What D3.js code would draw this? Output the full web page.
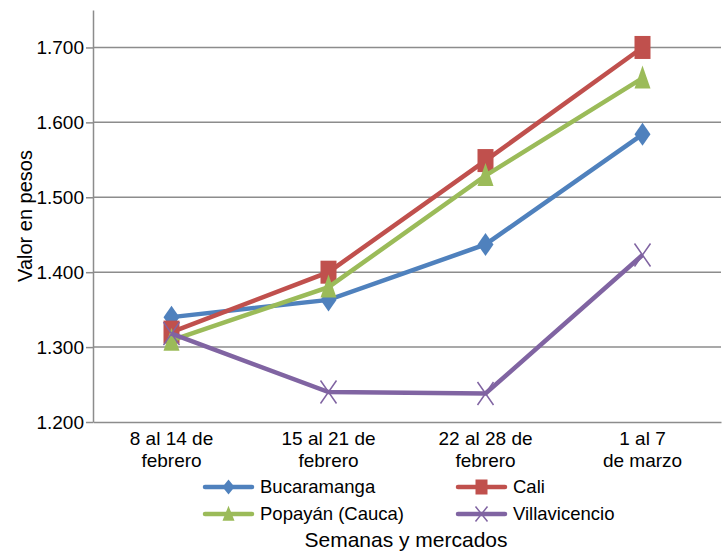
<!DOCTYPE html>
<html>
<head>
<meta charset="utf-8">
<script src="https://cdn.jsdelivr.net/npm/d3@7"></script>
<style>
  body { margin: 0; background: #fff; }
  text { font-family: "Liberation Sans", Arial, sans-serif; fill: #000; }
</style>
</head>
<body>
<div class="chart"></div>
<script>
// Data
const weeks = ["8 al 14 de|febrero", "15 al 21 de|febrero", "22 al 28 de|febrero", "1 al 7|de marzo"];
const bucaramanga = [1340, 1363, 1437, 1584];
const cali = [1320, 1400, 1549, 1700];
const popayan = [1309, 1380, 1529, 1659];
const villavicencio = [1318, 1240, 1238, 1423];
const yTicks = [1200, 1300, 1400, 1500, 1600, 1700];

const series = [
  { name: "Bucaramanga", values: bucaramanga, color: "#4F81BD", symbol: "diamond" },
  { name: "Cali", values: cali, color: "#C0504D", symbol: "square" },
  { name: "Popayán (Cauca)", values: popayan, color: "#9BBB59", symbol: "triangle" },
  { name: "Villavicencio", values: villavicencio, color: "#8064A2", symbol: "x" }
];

// Sizes
const w = 724;
const h = 552;
const margin = { top: 10, right: 3, bottom: 130, left: 93 };

const svg = d3.select(".chart").append("svg")
  .attr("width", w)
  .attr("height", h);

// Scales
const xScale = d3.scaleBand()
  .domain(weeks)
  .range([margin.left, w - margin.right]);

const yScale = d3.scaleLinear()
  .domain([1200, 1750])
  .range([h - margin.bottom, margin.top]);

const fmt = (d) => d3.format(",")(d).replace(",", ".");

// Gridlines
svg.append("g")
  .selectAll("line")
  .data(yTicks.slice(1))
  .enter()
  .append("line")
  .attr("x1", margin.left)
  .attr("x2", w - margin.right)
  .attr("y1", (d) => yScale(d))
  .attr("y2", (d) => yScale(d))
  .attr("stroke", "#8c8c8c")
  .attr("stroke-width", 1.5);

// Y axis
const yAxis = svg.append("g")
  .attr("transform", `translate(${margin.left}, 0)`)
  .call(d3.axisLeft(yScale).tickValues(yTicks).tickFormat(fmt).tickSize(7).tickSizeOuter(0));
yAxis.select(".domain").attr("stroke", "#8c8c8c").attr("stroke-width", 1.5);
yAxis.selectAll(".tick line").attr("stroke", "#8c8c8c").attr("stroke-width", 1.5);
yAxis.selectAll(".tick text")
  .attr("x", -9)
  .attr("font-size", 19)
  .attr("font-family", "Liberation Sans, Arial, sans-serif")
  .attr("fill", "#000");

// X axis (line only, labels below)
const xAxis = svg.append("g")
  .attr("transform", `translate(0, ${h - margin.bottom})`)
  .call(d3.axisBottom(xScale).tickSize(0).tickSizeOuter(0).tickFormat(""));
xAxis.select(".domain").attr("stroke", "#8c8c8c").attr("stroke-width", 1.5);

// X category labels, two lines each
weeks.forEach((wk) => {
  const cx = xScale(wk) + xScale.bandwidth() / 2;
  wk.split("|").forEach((part, i) => {
    svg.append("text")
      .text(part)
      .attr("x", cx)
      .attr("y", h - margin.bottom + 23 + i * 22)
      .attr("text-anchor", "middle")
      .attr("font-size", 19);
  });
});

// Axis labels
svg.append("text")
  .text("Valor en pesos")
  .attr("text-anchor", "middle")
  .attr("transform", `translate(32, 216) rotate(-90)`)
  .attr("font-size", 20);

svg.append("text")
  .text("Semanas y mercados")
  .attr("text-anchor", "middle")
  .attr("x", 406)
  .attr("y", 547)
  .attr("font-size", 21);

// Markers (mw = width, mh = height)
function drawMarker(g, s, x, y, mw, mh) {
  const rx = mw / 2, ry = mh / 2;
  if (s.symbol === "diamond") {
    g.append("path")
      .attr("d", `M${x},${y - ry}L${x + rx},${y}L${x},${y + ry}L${x - rx},${y}Z`)
      .attr("fill", s.color);
  } else if (s.symbol === "square") {
    g.append("rect")
      .attr("x", x - rx).attr("y", y - ry)
      .attr("width", mw).attr("height", mh)
      .attr("fill", s.color);
  } else if (s.symbol === "triangle") {
    g.append("path")
      .attr("d", `M${x},${y - ry * 1.1}L${x + rx},${y + ry * 0.9}L${x - rx},${y + ry * 0.9}Z`)
      .attr("fill", s.color);
  } else {
    g.append("path")
      .attr("d", `M${x - rx},${y - ry}L${x + rx},${y + ry}M${x - rx},${y + ry}L${x + rx},${y - ry}`)
      .attr("stroke", s.color)
      .attr("stroke-width", 1.5)
      .attr("fill", "none");
  }
}

// Lines
const line = d3.line()
  .x((d, i) => xScale(weeks[i]) + xScale.bandwidth() / 2)
  .y((d) => yScale(d));

series.forEach((s) => {
  const g = svg.append("g");
  g.append("path")
    .datum(s.values)
    .attr("d", line)
    .attr("fill", "none")
    .attr("stroke", s.color)
    .attr("stroke-width", 4.5);
  s.values.forEach((v, i) => {
    drawMarker(g, s, xScale(weeks[i]) + xScale.bandwidth() / 2, yScale(v), 16, 23);
  });
});

// Legend
const legendPos = [[205, 487], [458, 487], [205, 514], [458, 514]];
series.forEach((s, i) => {
  const [lx, ly] = legendPos[i];
  const g = svg.append("g");
  g.append("line")
    .attr("x1", lx).attr("x2", lx + 47)
    .attr("y1", ly).attr("y2", ly)
    .attr("stroke", s.color)
    .attr("stroke-width", 4.5)
    .attr("stroke-linecap", "round");
  drawMarker(g, s, lx + 23.5, ly, 12, 15);
  g.append("text")
    .text(s.name)
    .attr("x", lx + 55)
    .attr("y", ly + 6)
    .attr("font-size", 18.5);
});
</script>
</body>
</html>
